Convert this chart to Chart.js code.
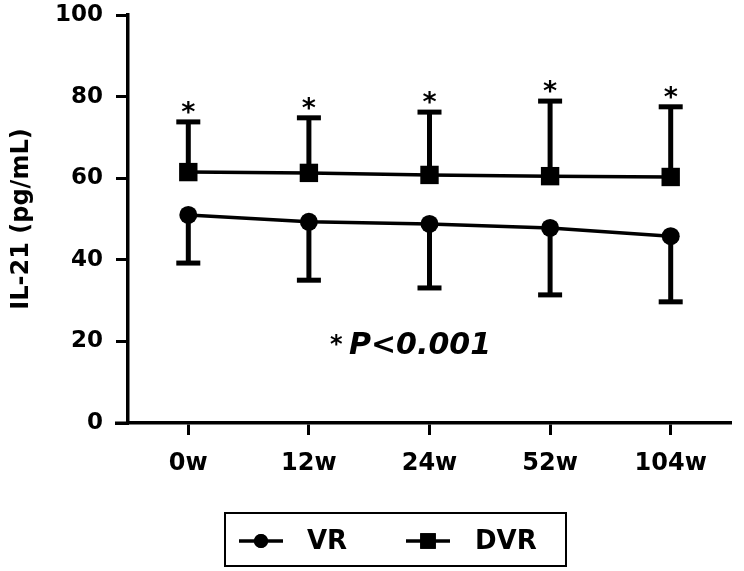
<!doctype html>
<html lang="en">
<head>
<meta charset="utf-8">
<title>IL-21 – VR vs DVR</title>
<style>
  *{margin:0;padding:0;box-sizing:border-box}
  html,body{background:#fff}
  .wrap{position:relative;width:744px;height:571px}
</style>
</head>
<body>
<div class="wrap"><canvas id="chart"></canvas></div>
<script src="https://cdn.jsdelivr.net/npm/chart.js"></script>
<script>
const weeks   = ['0w','12w','24w','52w','104w'];
const vrMean  = [51.0, 49.3, 48.8, 47.8, 45.8];
const vrLow   = [39.2, 35.0, 33.1, 31.4, 29.7];   // lower SD bar
const dvrMean = [61.5, 61.3, 60.8, 60.5, 60.3];
const dvrHigh = [73.8, 74.8, 76.2, 78.9, 77.5];   // upper SD bar
const yTicks  = [0, 20, 40, 60, 80, 100];
const starred = [true, true, true, true, true];
const FONT = "'DejaVu Sans', sans-serif";

// error bars + significance stars, drawn through the scales
const errBars = { id:'errBars', afterDatasetsDraw(c){
  const {ctx} = c, y = c.scales.y;
  ctx.save(); ctx.strokeStyle='#000'; ctx.fillStyle='#000';
  c.data.datasets.forEach((ds,di)=>{
    const meta = c.getDatasetMeta(di);
    ds._err.forEach((e,i)=>{
      const p = meta.data[i], x = p.x, y0 = y.getPixelForValue(ds.data[i]), y1 = y.getPixelForValue(e);
      ctx.lineWidth=5; ctx.beginPath(); ctx.moveTo(x,y0); ctx.lineTo(x,y1); ctx.stroke();
      ctx.fillRect(x-12, y1-2.5, 24, 5);
      if(ds._stars && ds._stars[i]){
        ctx.font = "bold 27px "+FONT; ctx.textAlign='center'; ctx.textBaseline='alphabetic';
        ctx.fillText('*', x, y1-1);
      }
    });
  });
  ctx.restore();
}};

// axis extension, legend box and P-value note
const extras = { id:'extras', afterDraw(c){
  const {ctx, chartArea:a} = c;
  ctx.save(); ctx.fillStyle='#000'; ctx.strokeStyle='#000';
  ctx.fillRect(a.left-13, a.bottom-1.5, 14, 3.5);
  // legend
  ctx.lineWidth=2; ctx.strokeRect(225,513,341,53);
  const ly = 541;
  const items = [[239,'VR',307,c.data.datasets[0]],[406,'DVR',475,c.data.datasets[1]]];
  items.forEach(([lx,label,tx,ds])=>{
    ctx.lineWidth=3.5; ctx.beginPath(); ctx.moveTo(lx,ly); ctx.lineTo(lx+44,ly); ctx.stroke();
    Chart.helpers.drawPoint(ctx,{pointStyle:ds.pointStyle,radius:ds.pointStyle==='rect'?11:7,borderWidth:0,rotation:0},lx+22,ly);
    ctx.fill();
    ctx.font = "bold 26px "+FONT; ctx.textAlign='left'; ctx.textBaseline='middle';
    ctx.fillText(label, tx, ly+1);
  });
  // P note
  ctx.textBaseline='alphabetic'; ctx.textAlign='left';
  ctx.font = "bold 24px "+FONT; ctx.fillText('*', 330, 352);
  ctx.font = "italic bold 30px "+FONT; ctx.fillText('P<0.001', 349, 354);
  ctx.restore();
}};

new Chart(document.getElementById('chart'), {
  type:'line',
  data:{ labels:weeks, datasets:[
    { label:'VR', data:vrMean, _err:vrLow, borderColor:'#000', backgroundColor:'#000', borderWidth:3.5,
      pointStyle:'circle', pointRadius:9, pointBorderWidth:0, pointBackgroundColor:'#000', tension:0 },
    { label:'DVR', data:dvrMean, _err:dvrHigh, _stars:starred, borderColor:'#000', backgroundColor:'#000', borderWidth:3.5,
      pointStyle:'rect', pointRadius:13, pointBorderWidth:0, pointBackgroundColor:'#000', tension:0 }
  ]},
  options:{
    responsive:true, maintainAspectRatio:false, animation:false,
    layout:{ padding:{ left:0, top:15, right:4, bottom:0 } },
    plugins:{ legend:{display:false}, tooltip:{enabled:false} },
    scales:{
      x:{ offset:true,
        grid:{ drawOnChartArea:false, tickLength:12, tickWidth:3, tickColor:'#000', offset:false },
        border:{ color:'#000', width:3.5 },
        ticks:{ color:'#000', padding:14, font:{ family:FONT, weight:'bold', size:24 } },
        afterFit(s){ s.height = 148; s.paddingLeft = 0; s.paddingRight = 0; } },
      y:{ min:0, max:100,
        afterBuildTicks(s){ s.ticks = yTicks.map(v=>({value:v})); },
        grid:{ drawOnChartArea:false, tickLength:12, tickWidth:3, tickColor:'#000' },
        border:{ color:'#000', width:3.5 },
        ticks:{ color:'#000', padding:13, font:{ family:FONT, weight:'bold', size:23 } },
        title:{ display:true, text:'IL-21 (pg/mL)', color:'#000', padding:{top:7,bottom:0},
          font:{ family:FONT, weight:'bold', size:24 } },
        afterFit(s){ s.width = 128; s.paddingTop = 0; s.paddingBottom = 0; } }
    }
  },
  plugins:[errBars, extras]
});
</script>
</body>
</html>
